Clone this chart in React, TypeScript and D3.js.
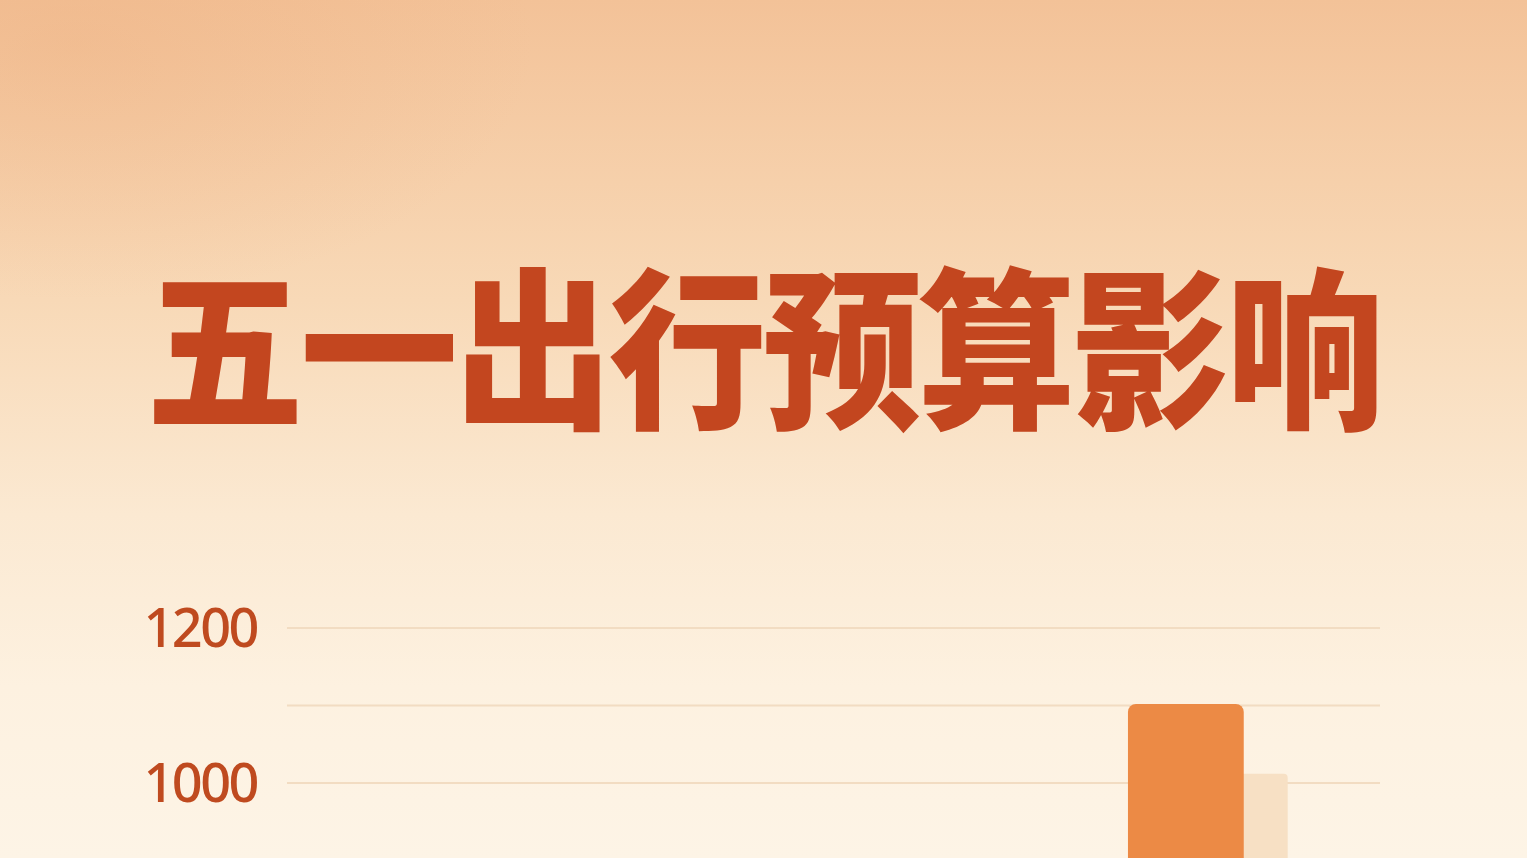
import { useEffect, useRef } from 'react'
import * as d3 from 'd3'

const W = 1527
const H = 858

const title = '五一出行预算影响'

// categories (the first three sit below the visible crop)
const categories = ['交通', '住宿', '餐饮', '游玩']
const budgetValues = [860, 720, 540, 1102]
const lastYearValues = [780, 650, 480, 1012]
const yTicks = [1000, 1100, 1200]
const yLabels = [1000, 1200]

export default function App() {
  const svgRef = useRef<SVGSVGElement>(null)

  useEffect(() => {
    if (!svgRef.current) return
    const svg = d3.select(svgRef.current)
    svg.selectAll('*').remove()

    const defs = svg.append('defs')

    // background gradient
    const bg = defs
      .append('linearGradient')
      .attr('id', 'bg-grad')
      .attr('x1', '0%')
      .attr('y1', '0%')
      .attr('x2', '0%')
      .attr('y2', '100%')
    bg.append('stop').attr('offset', '0%').attr('stop-color', '#f3c298')
    bg.append('stop').attr('offset', '35%').attr('stop-color', '#f8d9b7')
    bg.append('stop').attr('offset', '60%').attr('stop-color', '#fbe9d2')
    bg.append('stop').attr('offset', '80%').attr('stop-color', '#fdf1e0')
    bg.append('stop').attr('offset', '100%').attr('stop-color', '#fdf4e6')

    // slightly deeper tone in the top-left corner
    const corner = defs
      .append('radialGradient')
      .attr('id', 'corner')
      .attr('cx', '5%')
      .attr('cy', '5%')
      .attr('r', '30%')
    corner.append('stop').attr('offset', '0%').attr('stop-color', '#eba978').attr('stop-opacity', 0.3)
    corner.append('stop').attr('offset', '100%').attr('stop-color', '#eba978').attr('stop-opacity', 0)

    svg.append('rect').attr('width', W).attr('height', H).attr('fill', 'url(#bg-grad)')
    svg.append('rect').attr('width', W).attr('height', H).attr('fill', 'url(#corner)')

    // title, stretched a little vertically
    svg
      .append('g')
      .attr('transform', 'translate(765,340) scale(1,1.09)')
      .append('text')
      .attr('x', 0)
      .attr('y', 0)
      .attr('text-anchor', 'middle')
      .attr('dominant-baseline', 'central')
      .attr('font-family', '"Noto Sans CJK SC", sans-serif')
      .attr('font-weight', 900)
      .attr('font-size', 158)
      .attr('fill', '#c3461f')
      .attr('textLength', 1238)
      .attr('lengthAdjust', 'spacing')
      .text(title)

    // scales
    const x = d3
      .scaleBand()
      .domain(categories)
      .range([287, 1380])
      .paddingInner(0.36)
      .paddingOuter(0.37)

    const y = d3.scaleLinear().domain([0, 1200]).range([1558, 628])

    const g = svg.append('g')

    // grid
    g.selectAll('.grid')
      .data(yTicks)
      .enter()
      .append('line')
      .attr('x1', 287)
      .attr('x2', 1380)
      .attr('y1', (d) => y(d))
      .attr('y2', (d) => y(d))
      .attr('stroke', '#f2dcc2')
      .attr('stroke-width', 2)

    // y labels
    g.selectAll('.ylabel')
      .data(yLabels)
      .enter()
      .append('text')
      .attr('x', 257)
      .attr('y', (d) => y(d) - 2)
      .attr('text-anchor', 'end')
      .attr('dominant-baseline', 'central')
      .attr('font-family', '"Noto Sans", sans-serif')
      .attr('font-weight', 500)
      .attr('font-size', 54)
      .attr('letter-spacing', -2.5)
      .attr('fill', '#bf4a1f')
      .text((d) => String(d))

    const bw = x.bandwidth()
    const barW = bw * 0.725

    // lighter bars behind
    g.selectAll('.bar2')
      .data(categories)
      .enter()
      .append('rect')
      .attr('x', (d) => (x(d) || 0) + bw - barW)
      .attr('y', (_, i) => y(lastYearValues[i]))
      .attr('width', barW)
      .attr('height', (_, i) => y(0) - y(lastYearValues[i]))
      .attr('rx', 4)
      .attr('fill', '#f7e0c4')

    // main bars
    g.selectAll('.bar1')
      .data(categories)
      .enter()
      .append('rect')
      .attr('x', (d) => x(d) || 0)
      .attr('y', (_, i) => y(budgetValues[i]))
      .attr('width', barW)
      .attr('height', (_, i) => y(0) - y(budgetValues[i]))
      .attr('rx', 8)
      .attr('fill', '#ec8a45')
  }, [])

  return (
    <div style={{ position: 'fixed', left: 0, top: 0, width: W, height: H, overflow: 'hidden' }}>
      <svg ref={svgRef} width={W} height={H} style={{ display: 'block' }} />
    </div>
  )
}
